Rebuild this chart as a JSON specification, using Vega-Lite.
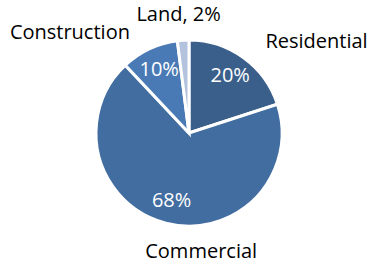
{
  "$schema": "https://vega.github.io/schema/vega-lite/v6.json",
  "width": 366,
  "height": 264,
  "autosize": {"type": "none"},
  "padding": {"left": 6, "right": 0, "top": 1, "bottom": 0},
  "background": "white",
  "data": {
    "values": [
      {"category": "Residential", "value": 20, "order": 1, "pct": "20%"},
      {"category": "Commercial", "value": 68, "order": 2, "pct": "68%"},
      {"category": "Construction", "value": 10, "order": 3, "pct": "10%"},
      {"category": "Land", "value": 2, "order": 4, "pct": "2%"}
    ]
  },
  "encoding": {
    "theta": {"field": "value", "type": "quantitative", "stack": true},
    "order": {"field": "order", "type": "quantitative"}
  },
  "layer": [
    {
      "mark": {"type": "arc", "outerRadius": 93, "stroke": "white", "strokeWidth": 3},
      "encoding": {
        "color": {
          "field": "category",
          "type": "nominal",
          "scale": {
            "domain": ["Residential", "Commercial", "Construction", "Land"],
            "range": ["#3a5f8b", "#426da0", "#4a7ab6", "#b3c3de"]
          },
          "legend": null
        }
      }
    },
    {
      "mark": {"type": "text", "radius": 70, "font": "Open Sans", "fontSize": 20, "fill": "white", "baseline": "middle"},
      "encoding": {"text": {"condition": {"test": "datum.category !== 'Land'", "field": "pct"}, "value": ""}}
    },
    {
      "mark": {"type": "text", "radius": 120, "align": "center", "baseline": "middle", "dx": 57, "dy": 6, "font": "Open Sans", "fontSize": 20, "fill": "black"},
      "encoding": {"text": {"condition": {"test": "datum.category === 'Residential'", "field": "category"}, "value": ""}}
    },
    {
      "mark": {"type": "text", "radius": 120, "align": "center", "baseline": "middle", "dx": 42, "dy": 3, "font": "Open Sans", "fontSize": 20, "fill": "black"},
      "encoding": {"text": {"condition": {"test": "datum.category === 'Commercial'", "field": "category"}, "value": ""}}
    },
    {
      "mark": {"type": "text", "radius": 120, "align": "center", "baseline": "middle", "dx": -68, "dy": 9, "font": "Open Sans", "fontSize": 20, "fill": "black"},
      "encoding": {"text": {"condition": {"test": "datum.category === 'Construction'", "field": "category"}, "value": ""}}
    },
    {
      "mark": {"type": "text", "radius": 118, "align": "center", "baseline": "middle", "dx": -3, "dy": 0, "font": "Open Sans", "fontSize": 20, "fill": "black"},
      "encoding": {"text": {"condition": {"test": "datum.category === 'Land'", "value": "Land, 2%"}, "value": ""}}
    }
  ]
}
